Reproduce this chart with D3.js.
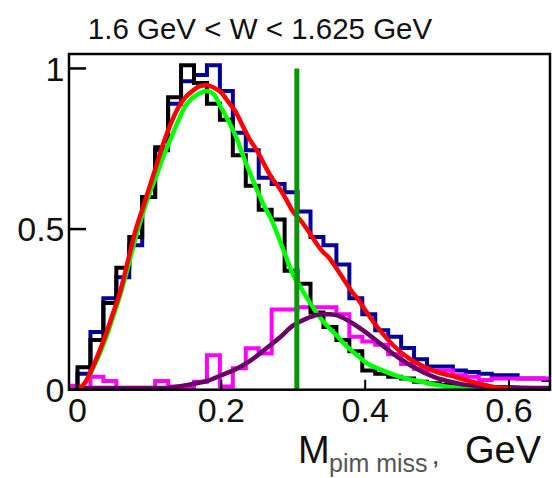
<!DOCTYPE html>
<html>
<head>
<meta charset="utf-8">
<script src="https://cdn.jsdelivr.net/npm/d3@7/dist/d3.min.js"></script>
<style>
  html, body { margin: 0; padding: 0; background: #fff; }
  svg { display: block; }
  text { font-family: "Liberation Sans", Arial, sans-serif; }
</style>
</head>
<body>
<svg id="chart" width="552" height="478"></svg>
<script>
// ---------------- data ----------------
const title = "1.6 GeV < W < 1.625 GeV";
const xTickValues = [0, 0.2, 0.4, 0.6];
const xTickLabels = ["0", "0.2", "0.4", "0.6"];
const yTickValues = [0, 0.5, 1];
const yTickLabels = ["0", "0.5", "1"];

// histogram bin edges (bin width 0.018)
const binEdges = [-0.018, 0, 0.018, 0.036, 0.054, 0.072, 0.09, 0.108, 0.126, 0.144,
  0.162, 0.18, 0.198, 0.216, 0.234, 0.252, 0.27, 0.288, 0.306, 0.324, 0.342,
  0.36, 0.378, 0.396, 0.414, 0.432, 0.45, 0.468, 0.486, 0.504, 0.522, 0.54,
  0.558, 0.576, 0.594, 0.612, 0.63, 0.648, 0.666];

const histBlack = [0, 0.07, 0.155, 0.27, 0.38, 0.475, 0.60, 0.755, 0.91, 1.01,
  0.955, 0.89, 0.84, 0.73, 0.635, 0.56, 0.53, 0.37, 0.33, 0.24, 0.195,
  0.155, 0.12, 0.06, 0.05, 0.04, 0.035, 0.025, 0.02, 0.015, 0.01, 0.005,
  0, 0, 0, 0, 0, 0];

const histBlue = [0, 0.05, 0.18, 0.285, 0.35, 0.45, 0.60, 0.745, 0.89, 0.96,
  0.98, 1.01, 0.93, 0.80, 0.745, 0.66, 0.64, 0.615, 0.555, 0.475, 0.45,
  0.39, 0.285, 0.235, 0.185, 0.165, 0.13, 0.095, 0.072, 0.072, 0.06, 0.055,
  0.05, 0.045, 0.045, 0.035, 0.035, 0.03];

const histMagenta = [0.012, 0, 0.04, 0.027, 0.005, 0.005, 0.005, 0.027, 0.01, 0.005,
  0.025, 0.107, 0.01, 0.067, 0.129, 0.113, 0.25, 0.25, 0.257, 0.257, 0.257,
  0.235, 0.165, 0.15, 0.14, 0.11, 0.08, 0.065, 0.06, 0.06, 0.045, 0.04,
  0.03, 0.035, 0.035, 0.035, 0.035, 0.035];

// fitted curves
const curveX = [0, 0.01, 0.02, 0.03, 0.04, 0.05, 0.06, 0.07, 0.08, 0.09, 0.10,
  0.11, 0.12, 0.13, 0.14, 0.15, 0.16, 0.17, 0.18, 0.19, 0.20, 0.21, 0.22,
  0.23, 0.24, 0.25, 0.26, 0.27, 0.28, 0.29, 0.30, 0.31, 0.32, 0.33, 0.34,
  0.35, 0.36, 0.37, 0.38, 0.39, 0.40, 0.42, 0.44, 0.46, 0.48, 0.50, 0.52,
  0.54, 0.56, 0.58, 0.60];

const curveRed = [0, 0.02, 0.064, 0.117, 0.176, 0.242, 0.31, 0.40, 0.49, 0.56, 0.63,
  0.70, 0.77, 0.83, 0.877, 0.91, 0.93, 0.945, 0.948, 0.94, 0.925, 0.895, 0.865,
  0.82, 0.777, 0.743, 0.70, 0.66, 0.63, 0.593, 0.553, 0.528, 0.497, 0.463, 0.432,
  0.41, 0.378, 0.344, 0.31, 0.282, 0.248, 0.186, 0.136, 0.099, 0.074, 0.055, 0.043,
  0.03, 0.018, 0.008, 0.005];

const curveGreen = [0, 0.02, 0.06, 0.108, 0.164, 0.23, 0.30, 0.38, 0.466, 0.543, 0.61,
  0.668, 0.73, 0.783, 0.836, 0.883, 0.908, 0.923, 0.93, 0.918, 0.877, 0.836, 0.79,
  0.73, 0.674, 0.62, 0.57, 0.528, 0.472, 0.413, 0.357, 0.32, 0.282, 0.248, 0.217,
  0.192, 0.17, 0.145, 0.124, 0.105, 0.086, 0.064, 0.046, 0.033, 0.024, 0.015, 0.008,
  0.005, 0.002, 0.001, 0];

const purpleX = [0, 0.04, 0.08, 0.12, 0.14, 0.16, 0.18, 0.20, 0.22, 0.24, 0.26, 0.28,
  0.30, 0.32, 0.34, 0.35, 0.36, 0.38, 0.40, 0.42, 0.44, 0.46, 0.48, 0.50, 0.52,
  0.54, 0.56, 0.58, 0.60, 0.62, 0.655];
const curvePurple = [0.005, 0.005, 0.005, 0.005, 0.01, 0.018, 0.027, 0.045, 0.064, 0.09,
  0.124, 0.16, 0.20, 0.223, 0.235, 0.235, 0.232, 0.21, 0.18, 0.145, 0.11, 0.08,
  0.055, 0.036, 0.024, 0.015, 0.011, 0.008, 0.008, 0.006, 0.005];

const cutValue = [0.305];
const cutTop = [1.0];

// ---------------- drawing ----------------
const W = 552, H = 478;
const frame = { left: 69, right: 550, top: 54, bottom: 389.7 };

const x = d3.scaleLinear().domain([-0.0118, 0.657]).range([frame.left, frame.right]);
const y = d3.scaleLinear().domain([0, 1.045]).range([frame.bottom, frame.top]);

const svg = d3.select("#chart");
svg.append("rect").attr("width", W).attr("height", H).attr("fill", "#fff");

svg.append("defs").append("clipPath").attr("id", "clip")
  .append("rect")
  .attr("x", frame.left).attr("y", frame.top - 10)
  .attr("width", frame.right - frame.left).attr("height", frame.bottom - frame.top + 10);

const plot = svg.append("g").attr("clip-path", "url(#clip)");

function histPoints(vals) {
  const pts = [[binEdges[0], 0]];
  vals.forEach((v, i) => {
    pts.push([binEdges[i], v]);
    pts.push([binEdges[i + 1], v]);
  });
  pts.push([binEdges[vals.length], 0]);
  return pts;
}
const lineXY = d3.line().x(d => x(d[0])).y(d => y(d[1]));

function drawHist(vals, color, w) {
  plot.append("path").datum(histPoints(vals))
    .attr("d", lineXY).attr("fill", "none")
    .attr("stroke", color).attr("stroke-width", w)
    .attr("stroke-linejoin", "miter").attr("stroke-linecap", "butt");
}
drawHist(histBlue, "#000098", 4);
drawHist(histMagenta, "#ff00ff", 4);
drawHist(histBlack, "#000000", 4);

const curveLine = d3.line().x(d => x(d[0])).y(d => y(d[1])).curve(d3.curveMonotoneX);
function drawCurve(xs, ys, color, w) {
  plot.append("path").datum(xs.map((v, i) => [v, ys[i]]))
    .attr("d", curveLine).attr("fill", "none")
    .attr("stroke", color).attr("stroke-width", w)
    .attr("stroke-linejoin", "round").attr("stroke-linecap", "round");
}
drawCurve(curveX, curveGreen, "#00ff00", 4.5);
drawCurve(purpleX, curvePurple, "#680068", 4.5);
drawCurve(curveX, curveRed, "#ff0000", 4.5);

// cut line
plot.selectAll("line.cut").data(cutValue).enter().append("line")
  .attr("class", "cut")
  .attr("x1", d => x(d)).attr("x2", d => x(d))
  .attr("y1", y(0)).attr("y2", y(cutTop[0]))
  .attr("stroke", "#089608").attr("stroke-width", 5);

// frame
svg.append("rect")
  .attr("x", frame.left).attr("y", frame.top)
  .attr("width", frame.right - frame.left).attr("height", frame.bottom - frame.top)
  .attr("fill", "none").attr("stroke", "#000").attr("stroke-width", 2.5);

// y ticks
svg.selectAll("line.ytick").data(yTickValues).enter().append("line")
  .attr("class", "ytick")
  .attr("x1", frame.left).attr("x2", frame.left + 17)
  .attr("y1", d => y(d)).attr("y2", d => y(d))
  .attr("stroke", "#000").attr("stroke-width", 2.5);
// x ticks
svg.selectAll("line.xtick").data(xTickValues).enter().append("line")
  .attr("class", "xtick")
  .attr("x1", d => x(d)).attr("x2", d => x(d))
  .attr("y1", frame.bottom).attr("y2", frame.bottom - 10)
  .attr("stroke", "#000").attr("stroke-width", 2);

// tick labels
svg.selectAll("text.ylab").data(yTickValues).enter().append("text")
  .attr("class", "ylab")
  .attr("x", 64.5).attr("y", d => y(d) + 12.2)
  .attr("text-anchor", "end").attr("font-size", 34).attr("fill", "#111")
  .text((d, i) => yTickLabels[i]);
svg.selectAll("text.xlab").data(xTickValues).enter().append("text")
  .attr("class", "xlab")
  .attr("x", d => x(d)).attr("y", 422)
  .attr("text-anchor", "middle").attr("font-size", 34).attr("fill", "#111")
  .text((d, i) => xTickLabels[i]);

// title
svg.append("text").attr("x", 260).attr("y", 39)
  .attr("text-anchor", "middle").attr("font-size", 29.5).attr("fill", "#111")
  .text(title);

// axis title
svg.append("text").attr("x", 298).attr("y", 463).attr("font-size", 38).attr("fill", "#111").text("M");
svg.append("text").attr("x", 329).attr("y", 472).attr("font-size", 25).attr("fill", "#555").text("pim miss");
svg.append("text").attr("x", 432).attr("y", 464).attr("font-size", 26).attr("fill", "#333").text(",");
svg.append("text").attr("x", 541).attr("y", 463).attr("text-anchor", "end").attr("font-size", 38).attr("fill", "#111").text("GeV");
</script>
</body>
</html>
